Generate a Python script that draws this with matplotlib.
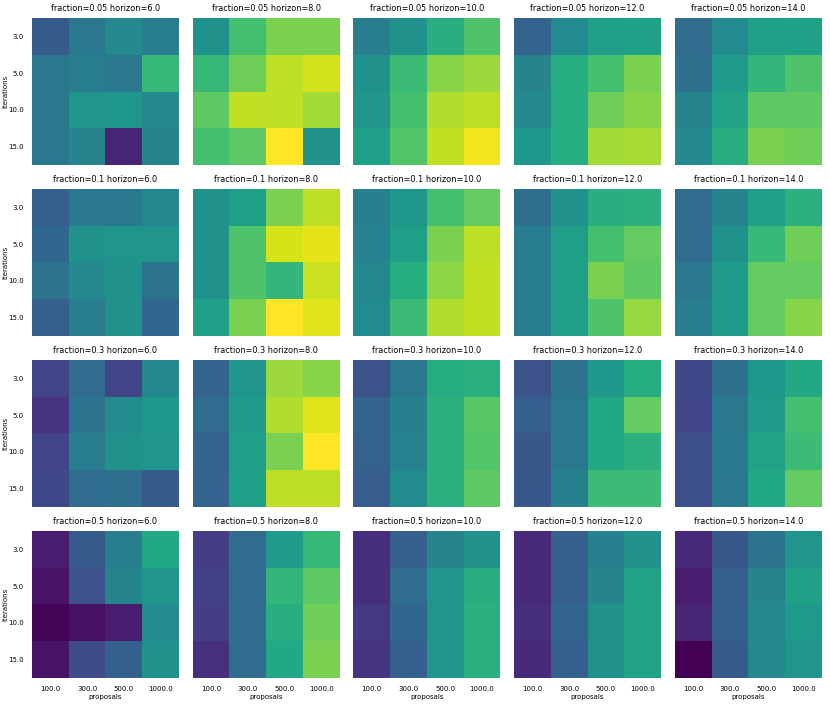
import numpy as np
import matplotlib
matplotlib.use("Agg")
import matplotlib.pyplot as plt

fractions = [0.05, 0.1, 0.3, 0.5]
horizons = [6.0, 8.0, 10.0, 12.0, 14.0]
iterations = [3.0, 5.0, 10.0, 15.0]
proposals = [100.0, 300.0, 500.0, 1000.0]

# score per horizon, rows = iterations, cols = proposals (relative scale)
scores_f005 = [
    [[0.28, 0.40, 0.47, 0.42], [0.40, 0.42, 0.40, 0.67], [0.40, 0.52, 0.53, 0.47], [0.40, 0.45, 0.10, 0.45]],
    [[0.50, 0.70, 0.80, 0.80], [0.67, 0.78, 0.90, 0.93], [0.75, 0.91, 0.90, 0.86], [0.70, 0.75, 1.00, 0.50]],
    [[0.42, 0.50, 0.63, 0.72], [0.50, 0.68, 0.82, 0.85], [0.52, 0.70, 0.88, 0.90], [0.57, 0.73, 0.91, 0.98]],
    [[0.32, 0.48, 0.56, 0.57], [0.45, 0.62, 0.70, 0.80], [0.47, 0.62, 0.78, 0.82], [0.53, 0.62, 0.86, 0.87]],
    [[0.35, 0.48, 0.56, 0.57], [0.37, 0.55, 0.66, 0.72], [0.45, 0.58, 0.75, 0.75], [0.47, 0.63, 0.80, 0.78]],
]
scores_f01 = [
    [[0.30, 0.40, 0.40, 0.46], [0.33, 0.50, 0.52, 0.52], [0.38, 0.47, 0.50, 0.38], [0.30, 0.42, 0.50, 0.33]],
    [[0.50, 0.57, 0.80, 0.90], [0.50, 0.72, 0.94, 0.96], [0.50, 0.72, 0.66, 0.92], [0.57, 0.80, 1.00, 0.95]],
    [[0.43, 0.53, 0.70, 0.76], [0.44, 0.56, 0.80, 0.90], [0.46, 0.62, 0.83, 0.91], [0.48, 0.68, 0.88, 0.91]],
    [[0.36, 0.50, 0.63, 0.64], [0.42, 0.56, 0.70, 0.76], [0.42, 0.56, 0.80, 0.75], [0.42, 0.56, 0.72, 0.84]],
    [[0.35, 0.45, 0.56, 0.64], [0.35, 0.50, 0.67, 0.78], [0.40, 0.55, 0.76, 0.76], [0.42, 0.55, 0.76, 0.82]],
]
scores_f03 = [
    [[0.20, 0.35, 0.20, 0.47], [0.15, 0.38, 0.48, 0.53], [0.20, 0.42, 0.50, 0.52], [0.22, 0.35, 0.36, 0.28]],
    [[0.32, 0.52, 0.85, 0.82], [0.35, 0.55, 0.88, 0.95], [0.32, 0.56, 0.80, 1.00], [0.32, 0.57, 0.90, 0.90]],
    [[0.25, 0.40, 0.62, 0.64], [0.32, 0.43, 0.64, 0.74], [0.31, 0.44, 0.64, 0.73], [0.29, 0.48, 0.64, 0.75]],
    [[0.25, 0.38, 0.53, 0.62], [0.30, 0.40, 0.60, 0.76], [0.27, 0.40, 0.60, 0.64], [0.27, 0.43, 0.68, 0.68]],
    [[0.22, 0.37, 0.53, 0.60], [0.21, 0.40, 0.55, 0.70], [0.24, 0.41, 0.58, 0.68], [0.24, 0.40, 0.60, 0.76]],
]
scores_f05 = [
    [[0.08, 0.28, 0.42, 0.60], [0.05, 0.25, 0.45, 0.52], [0.01, 0.04, 0.08, 0.48], [0.05, 0.23, 0.30, 0.50]],
    [[0.18, 0.35, 0.55, 0.67], [0.19, 0.35, 0.66, 0.75], [0.18, 0.35, 0.63, 0.78], [0.14, 0.35, 0.60, 0.80]],
    [[0.13, 0.30, 0.45, 0.50], [0.13, 0.35, 0.52, 0.63], [0.16, 0.33, 0.52, 0.64], [0.15, 0.30, 0.52, 0.64]],
    [[0.12, 0.30, 0.43, 0.50], [0.12, 0.30, 0.45, 0.58], [0.13, 0.32, 0.50, 0.58], [0.12, 0.30, 0.50, 0.58]],
    [[0.12, 0.27, 0.38, 0.52], [0.08, 0.30, 0.45, 0.57], [0.10, 0.30, 0.46, 0.54], [0.00, 0.28, 0.47, 0.52]],
]
all_scores = [scores_f005, scores_f01, scores_f03, scores_f05]

fig, axes = plt.subplots(4, 5, figsize=(8.3, 7.06), dpi=100)
fig.subplots_adjust(left=0.0386, right=0.990, top=0.9745, bottom=0.0397,
                    wspace=0.095, hspace=0.163)

for i, frac in enumerate(fractions):
    for j, hor in enumerate(horizons):
        ax = axes[i, j]
        data = np.array(all_scores[i][j])
        ax.pcolormesh(data, cmap="viridis", vmin=0, vmax=1)
        ax.set_xlim(0, len(proposals))
        ax.set_ylim(len(iterations), 0)
        ax.set_title(f"fraction={frac} horizon={hor}", fontsize=5.9, pad=5)
        for s in ax.spines.values():
            s.set_visible(False)
        ax.tick_params(length=0, labelsize=5.0, pad=6)
        ax.set_xticks(np.arange(len(proposals)) + 0.5)
        ax.set_yticks(np.arange(len(iterations)) + 0.5)
        if i == len(fractions) - 1:
            ax.set_xticklabels([str(p) for p in proposals])
            ax.set_xlabel("proposals", fontsize=5.0, labelpad=1)
        else:
            ax.set_xticklabels([])
        if j == 0:
            ax.set_yticklabels([str(t) for t in iterations])
            ax.set_ylabel("Iterations", fontsize=5.0)
            ax.yaxis.set_label_coords(-0.16, 0.5)
        else:
            ax.set_yticklabels([])

fig.savefig("out.png", dpi=100)
